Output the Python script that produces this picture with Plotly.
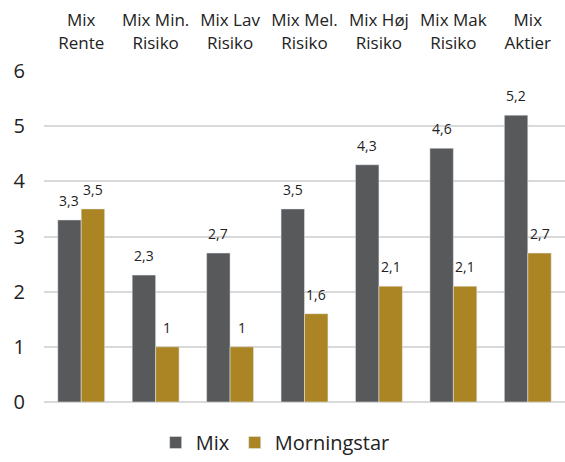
import plotly.graph_objects as go

categories = ["Mix<br>Rente", "Mix Min.<br>Risiko", "Mix Lav<br>Risiko", "Mix Mel.<br>Risiko",
              "Mix Høj<br>Risiko", "Mix Mak<br>Risiko", "Mix<br>Aktier"]
mix_values = [3.3, 2.3, 2.7, 3.5, 4.3, 4.6, 5.2]
morningstar_values = [3.5, 1.0, 1.0, 1.6, 2.1, 2.1, 2.7]

FONT = "Open Sans, sans-serif"
BAR_GAP = 0.37
MIX_COLOR = "#58595b"
MS_COLOR = "#ab8523"

fig = go.Figure()
fig.add_trace(go.Bar(name="Mix", x=categories, y=mix_values, marker_color=MIX_COLOR))
fig.add_trace(go.Bar(name="Morningstar", x=categories, y=morningstar_values, marker_color=MS_COLOR))

# data labels via annotations anchored to each bar value
plot_w = 565 - 44
cat_w = plot_w / len(categories)
bar_w = cat_w * (1 - BAR_GAP) / 2
for series, shift in ((mix_values, -bar_w / 2), (morningstar_values, bar_w / 2)):
    for c, v in zip(categories, series):
        fig.add_annotation(x=c, y=v, xref="x", yref="y", text=f"{v:g}".replace(".", ","),
                           showarrow=False, yanchor="bottom", xanchor="center",
                           xshift=shift, yshift=8, font=dict(size=14, color="#222"))

fig.update_layout(
    width=565, height=462,
    margin=dict(l=44, r=0, t=71, b=60, autoexpand=False),
    paper_bgcolor="white", plot_bgcolor="white",
    barmode="group", bargap=BAR_GAP, bargroupgap=0,
    font=dict(family=FONT, color="#222"),
    separators=",.",
    showlegend=True,
    legend=dict(orientation="h", x=0.487, xanchor="center", xref="container",
                y=0.0, yanchor="bottom", yref="container",
                font=dict(size=20), itemwidth=30, traceorder="normal"),
    xaxis=dict(side="top", tickfont=dict(size=17), showgrid=False, showline=False,
               ticks="", ticklen=0, ticklabelstandoff=18, automargin=False),
    yaxis=dict(range=[0, 6], dtick=1, tickfont=dict(size=20), showgrid=True,
               gridcolor="#d9d9d9", gridwidth=2, zeroline=True, zerolinecolor="#d9d9d9",
               zerolinewidth=2, ticks="", ticklabelstandoff=18, automargin=False),
)

fig.write_html("out.html")
